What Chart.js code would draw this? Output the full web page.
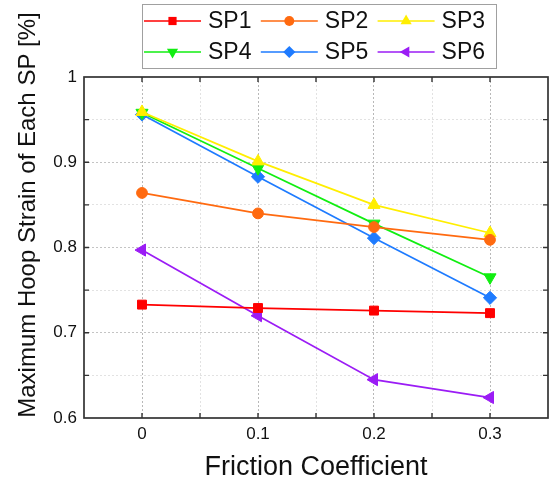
<!DOCTYPE html>
<html>
<head>
<meta charset="utf-8">
<script src="https://cdn.jsdelivr.net/npm/chart.js@4/dist/chart.umd.min.js"></script>
<style>
  html, body { margin: 0; padding: 0; background: #fff; }
  #wrap { width: 556px; height: 485px; position: relative; }
</style>
</head>
<body>
<div id="wrap"><canvas id="canvas"></canvas></div>
<script>
// data
const friction = [0, 0.1, 0.2, 0.3];
const sp1 = [0.733, 0.729, 0.726, 0.723];
const sp2 = [0.864, 0.840, 0.824, 0.809];
const sp3 = [0.959, 0.901, 0.850, 0.817];
const sp4 = [0.958, 0.893, 0.828, 0.765];
const sp5 = [0.956, 0.883, 0.811, 0.741];
const sp6 = [0.797, 0.720, 0.645, 0.624];
const seriesNames = ['SP1', 'SP2', 'SP3', 'SP4', 'SP5', 'SP6'];
const xTickLabels = ['0', '0.1', '0.2', '0.3'];
const yTickLabels = ['0.6', '0.7', '0.8', '0.9', '1'];

const FONT = '"Liberation Sans", Arial, sans-serif';

function pts(vals) {
  return vals.map(function(v, i){ return {x: friction[i], y: v}; });
}

function isMajor(v) {
  return Math.abs(v * 10 - Math.round(v * 10)) < 1e-6;
}

const styles = [
  {color: '#FF0000', pointStyle: 'rect', rotation: 0, radius: 6.3},
  {color: '#FF6A10', pointStyle: 'circle', rotation: 0, radius: 5.4},
  {color: '#FFEE00', pointStyle: 'triangle', rotation: 0, radius: 7},
  {color: '#11EE11', pointStyle: 'triangle', rotation: 180, radius: 7},
  {color: '#1E7BFF', pointStyle: 'rectRot', rotation: 0, radius: 6.6},
  {color: '#9B1CF5', pointStyle: 'triangle', rotation: 270, radius: 7}
];
const allValues = [sp1, sp2, sp3, sp4, sp5, sp6];

const datasets = allValues.map(function(vals, k){
  const s = styles[k];
  return {
    label: seriesNames[k],
    data: pts(vals),
    borderColor: s.color,
    backgroundColor: s.color,
    borderWidth: 1.7,
    pointStyle: s.pointStyle,
    pointRotation: s.rotation,
    pointRadius: s.radius,
    pointHoverRadius: s.radius,
    pointBorderWidth: 1,
    pointBorderColor: s.color,
    pointBackgroundColor: s.color
  };
});

/* frame, inward ticks, y title and legend box */
const extras = {
  id: 'extras',
  afterDatasetsDraw(chart) {
    const ctx = chart.ctx;
    const a = chart.chartArea;
    const xs = chart.scales.x, ys = chart.scales.y;
    ctx.save();
    ctx.strokeStyle = '#333';
    ctx.lineWidth = 1.7;
    ctx.strokeRect(a.left, a.top, a.right - a.left, a.bottom - a.top);
    ctx.lineWidth = 1.4;
    ctx.beginPath();
    xs.ticks.forEach(function(t){
      const px = xs.getPixelForValue(t.value);
      if (px <= a.left + 1 || px >= a.right - 1) return;
      ctx.moveTo(px, a.bottom); ctx.lineTo(px, a.bottom - 5);
      ctx.moveTo(px, a.top); ctx.lineTo(px, a.top + 5);
    });
    ys.ticks.forEach(function(t){
      const py = ys.getPixelForValue(t.value);
      if (py <= a.top + 1 || py >= a.bottom - 1) return;
      ctx.moveTo(a.left, py); ctx.lineTo(a.left + 5, py);
      ctx.moveTo(a.right, py); ctx.lineTo(a.right - 5, py);
    });
    ctx.stroke();
    ctx.restore();
  },
  afterDraw(chart) {
    const ctx = chart.ctx;
    ctx.save();
    // y axis title
    ctx.translate(28, 215);
    ctx.rotate(-Math.PI / 2);
    ctx.fillStyle = '#111';
    ctx.font = '24px ' + FONT;
    ctx.textAlign = 'center';
    ctx.textBaseline = 'middle';
    ctx.fillText('Maximum Hoop Strain of Each SP [%]', 0, 0);
    ctx.restore();

    // legend
    ctx.save();
    ctx.fillStyle = '#fff';
    ctx.fillRect(142, 4, 354, 64);
    ctx.strokeStyle = '#a0a0a0';
    ctx.lineWidth = 1;
    ctx.strokeRect(142.5, 4.5, 354, 64);
    ctx.font = '23px ' + FONT;
    ctx.textBaseline = 'middle';
    ctx.fillStyle = '#111';
    chart.data.datasets.forEach(function(ds, k){
      const col = k % 3, row = Math.floor(k / 3);
      const x0 = 144 + col * 116.8;
      const y0 = 21 + row * 31;
      ctx.strokeStyle = ds.borderColor;
      ctx.lineWidth = 1.7;
      ctx.beginPath();
      ctx.moveTo(x0, y0); ctx.lineTo(x0 + 57, y0);
      ctx.stroke();
      ctx.fillStyle = ds.borderColor;
      Chart.helpers.drawPoint(ctx, {
        pointStyle: ds.pointStyle,
        rotation: ds.pointRotation,
        radius: ds.pointRadius * 0.92,
        borderWidth: 0
      }, x0 + 28.5, y0);
      ctx.fillStyle = '#111';
      ctx.fillText(ds.label, x0 + 64, y0 + 1);
    });
    ctx.restore();
  }
};

const ctx = document.getElementById('canvas');
new Chart(ctx, {
  type: 'line',
  data: { datasets: datasets },
  options: {
    responsive: true,
    maintainAspectRatio: false,
    animation: false,
    layout: { padding: { top: 77, right: 7, left: 0, bottom: 0 } },
    plugins: {
      legend: { display: false },
      tooltip: { enabled: false }
    },
    scales: {
      x: {
        type: 'linear',
        min: -0.05,
        max: 0.35,
        afterFit: function(s){ s.height = 67; },
        border: { display: false, dash: [2, 2] },
        grid: {
          drawTicks: false,
          lineWidth: 1,
          color: function(c){
            const v = c.tick ? c.tick.value : 0;
            if (v < -0.049 || v > 0.349) return 'rgba(0,0,0,0)';
            return isMajor(v) ? '#b8b8b8' : '#e2e2e2';
          }
        },
        ticks: {
          stepSize: 0.05,
          padding: 6,
          color: '#111',
          font: { family: FONT, size: 17 },
          callback: function(v){
            if (!isMajor(v) || v < -0.001) return '';
            const lbl = xTickLabels[Math.round(v * 10)];
            return lbl === undefined ? '' : lbl;
          }
        },
        title: {
          display: true,
          text: 'Friction Coefficient',
          color: '#111',
          font: { family: FONT, size: 27 },
          padding: { top: 0, bottom: 1 }
        }
      },
      y: {
        min: 0.6,
        max: 1,
        afterFit: function(s){ s.width = 84; },
        border: { display: false, dash: [2, 2] },
        grid: {
          drawTicks: false,
          lineWidth: 1,
          color: function(c){
            const v = c.tick ? c.tick.value : 0;
            if (v < 0.601 || v > 0.999) return 'rgba(0,0,0,0)';
            return isMajor(v) ? '#c4c4c4' : '#e2e2e2';
          }
        },
        ticks: {
          stepSize: 0.05,
          padding: 7,
          color: '#111',
          font: { family: FONT, size: 17 },
          callback: function(v){
            if (!isMajor(v)) return '';
            const lbl = yTickLabels[Math.round(v * 10) - 6];
            return lbl === undefined ? '' : lbl;
          }
        }
      }
    }
  },
  plugins: [extras]
});
</script>
</body>
</html>
